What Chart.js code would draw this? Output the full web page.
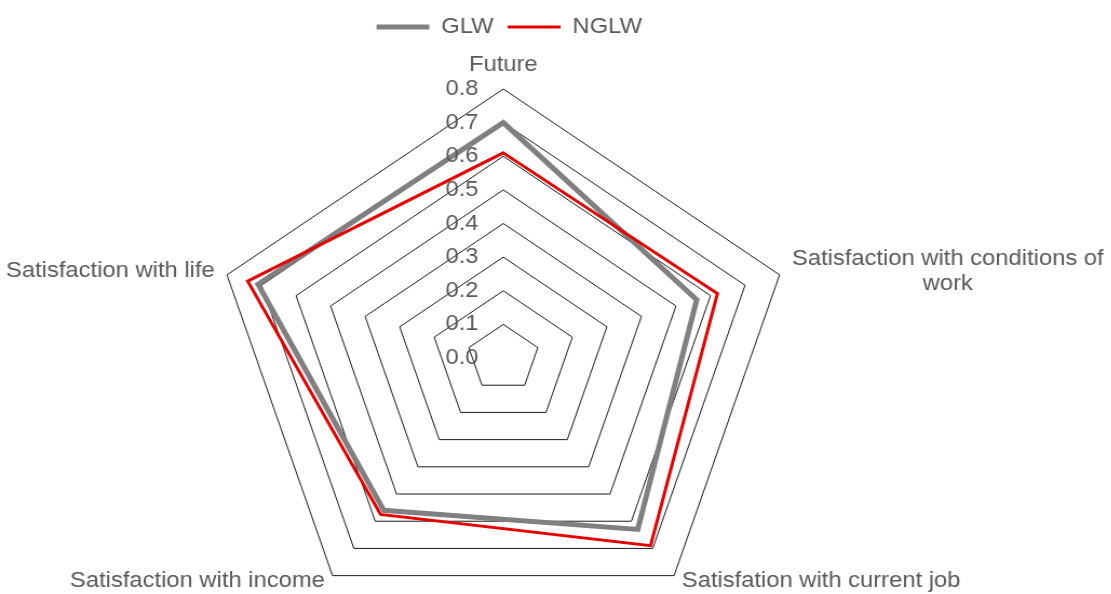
<!DOCTYPE html>
<html>
<head>
<meta charset="utf-8">
<script src="https://cdn.jsdelivr.net/npm/chart.js@4/dist/chart.umd.min.js"></script>
<style>
  html, body { margin: 0; padding: 0; background: #ffffff; overflow: hidden; }
  /* the plot is drawn on a slightly narrower canvas and widened a little */
  #wrap { position: absolute; left: 0; top: 0; width: 1029px; height: 594px;
          transform: scaleX(1.08); transform-origin: 0 0; }
</style>
</head>
<body>
<div id="wrap"><canvas id="chart"></canvas></div>
<script>
// Axes of the radar (a multi-line label is given as an array of lines)
const categories = [
  'Future',
  ['Satisfaction with conditions of', 'work'],
  'Satisfation with current job',
  'Satisfaction with income',
  'Satisfaction with life'
];

// Series values
const glwValues  = [0.70, 0.56, 0.63, 0.56, 0.71];
const nglwValues = [0.61, 0.62, 0.69, 0.575, 0.74];

// Radial axis range and tick step (labels 0.0 ... 0.8)
const axisMin = 0;
const axisMax = 0.8;
const tickStep = 0.1;

const TEXT_COLOR = '#595959';
const FONT_FAMILY = '"Liberation Sans", Arial, Helvetica, sans-serif';
const FONT_SIZE = 22;

Chart.defaults.font.family = FONT_FAMILY;
Chart.defaults.color = TEXT_COLOR;

// Draws the value labels beside the vertical axis and the category labels
const radarText = {
  id: 'radarText',
  afterDatasetsDraw(chart) {
    const s = chart.scales.r;
    const ctx = chart.ctx;
    ctx.save();
    ctx.fillStyle = TEXT_COLOR;
    ctx.font = FONT_SIZE + 'px ' + FONT_FAMILY;

    // value labels, right-aligned just left of the centre line
    ctx.textAlign = 'right';
    ctx.textBaseline = 'middle';
    s.ticks.forEach(t => {
      const r = s.getDistanceFromCenterForValue(t.value);
      ctx.fillText(t.value.toFixed(1), s.xCenter - 23, s.yCenter - r);
    });

    // category labels around the outer ring
    const lineH = 25;
    chart.data.labels.forEach((lab, i) => {
      const lines = [].concat(lab);
      const deg = Math.round(s.getIndexAngle(i) * 180 / Math.PI) % 360;
      const lower = deg > 90 && deg < 270;
      const pos = s.getPointPosition(i, s.drawingArea + (lower ? 7 : 12));
      const bw = Math.max(...lines.map(l => ctx.measureText(l).width));
      let cx;
      if (deg === 0 || deg === 180) cx = pos.x;
      else if (deg < 180) cx = pos.x + (lower ? 3 : 0) + bw / 2;
      else cx = pos.x - (lower ? 3 : 0) - bw / 2;
      let cy = pos.y;
      if (deg === 0) cy = pos.y - lineH / 2;
      const top = cy - lineH * (lines.length - 1) / 2;
      ctx.textAlign = 'center';
      ctx.textBaseline = 'middle';
      lines.forEach((l, k) => ctx.fillText(l, cx, top + k * lineH));
    });
    ctx.restore();
  }
};

new Chart(document.getElementById('chart'), {
  type: 'radar',
  data: {
    labels: categories,
    datasets: [
      {
        label: 'GLW',
        data: glwValues,
        borderColor: '#808080',
        backgroundColor: '#808080',
        borderWidth: 5,
        fill: false,
        pointRadius: 0,
        pointHoverRadius: 0,
        tension: 0,
        borderJoinStyle: 'miter',
        order: 2
      },
      {
        label: 'NGLW',
        data: nglwValues,
        borderColor: '#e60000',
        backgroundColor: '#e60000',
        borderWidth: 3,
        fill: false,
        pointRadius: 0,
        pointHoverRadius: 0,
        tension: 0,
        borderJoinStyle: 'miter',
        order: 1
      }
    ]
  },
  options: {
    responsive: true,
    maintainAspectRatio: false,
    animation: false,
    layout: { padding: { top: 3, right: 86, left: 0, bottom: 0 } },
    plugins: {
      tooltip: { enabled: false },
      legend: {
        display: true,
        position: 'top',
        align: 'center',
        labels: {
          usePointStyle: true,
          pointStyle: 'line',
          pointStyleWidth: 49,
          padding: 13,
          color: TEXT_COLOR,
          font: { size: FONT_SIZE, family: FONT_FAMILY },
          sort: (a, b) => a.datasetIndex - b.datasetIndex
        }
      }
    },
    scales: {
      r: {
        min: axisMin,
        max: axisMax,
        startAngle: 0,
        ticks: { stepSize: tickStep, display: false },
        pointLabels: { display: false },
        angleLines: { display: false },
        grid: { color: '#1a1a1a', lineWidth: 1 },
        afterFit(scale) {
          scale.xCenter = 466;
          scale.yCenter = 358;
          scale.drawingArea = 269;
        }
      }
    }
  },
  plugins: [radarText]
});
</script>
</body>
</html>
